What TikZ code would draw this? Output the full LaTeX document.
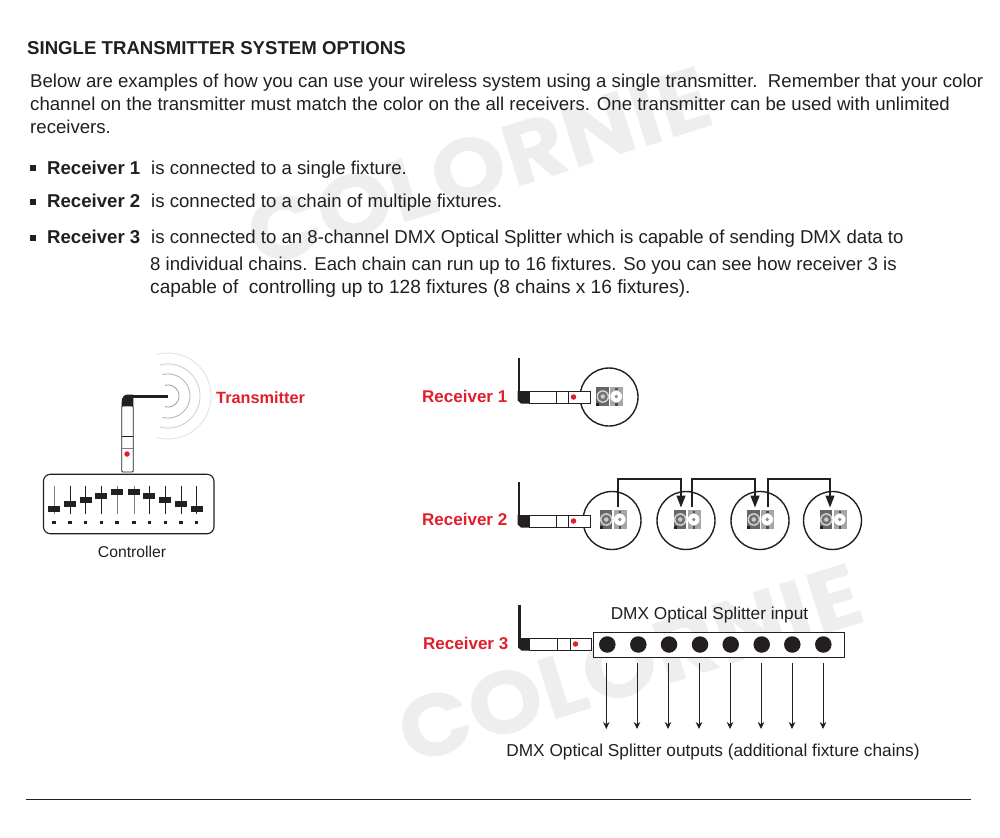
\documentclass[tikz,border=0pt]{standalone}
\usepackage{fontspec}
\setmainfont{Liberation Sans}
\newfontfamily\wmfont{Poppins}
\usetikzlibrary{arrows.meta}
\definecolor{ink}{HTML}{231F20}
\definecolor{redl}{HTML}{E01F2D}
\definecolor{wm}{HTML}{EEEEEE}
\tikzset{
  x=1pt,y=-1pt,
  txt/.style={anchor=base west,inner sep=0,font=\fontsize{18.62}{20}\selectfont,text=ink},
  boldt/.style={txt,font=\fontsize{18.62}{20}\selectfont\bfseries},
  redlab/.style={anchor=base west,inner sep=0,font=\fontsize{17}{18}\selectfont\bfseries,text=redl},
  small/.style={anchor=center,inner sep=0,font=\fontsize{17.25}{18}\selectfont,text=ink},
  wmark/.style={inner sep=0,font=\wmfont\fontsize{88}{100}\selectfont\bfseries,text=wm,rotate=17.5,xscale=1.08},
  fixture/.style={circle,draw=ink,line width=1.4pt,minimum size=58pt,inner sep=0,fill=white},
  body/.style={draw=ink,line width=.8pt,fill=white},
  knob/.style={fill=ink,draw=none,minimum width=12pt,minimum height=6pt,inner sep=0},
  sq/.style={fill=ink,draw=none,minimum size=3.5pt,inner sep=0},
  fad/.style={line width=.9pt,draw=ink},
  wire/.style={draw=ink,line width=1.2pt,-{Triangle[length=12pt,width=9pt]}},
  outarrow/.style={draw=ink,line width=.8pt,-{Stealth[length=7pt,width=6.5pt]}},
  sdot/.style={circle,fill=ink,draw=none,minimum size=16.5pt,inner sep=0},
  led/.style={circle,fill=redl,draw=none,minimum size=5.5pt,inner sep=0},
}
\newcommand{\rcv}[6]{%
  \draw[ink,line width=2.8pt] (#1,#2) -- (#1,#3+6);
  \fill[ink] (#1-1.4,#3) -- (#1+10,#3) -- (#1+10,#3+12.5) -- (#1+2,#3+12.5) -- (#1-1.4,#3+9.5) -- cycle;
  \draw[body] (#1+10,#3+.5) rectangle (#6,#3+12);
  \draw[ink,line width=.8pt] (#4,#3+.5) -- (#4,#3+12) (#5,#3+.5) -- (#5,#3+12);
  \node[led] at (#5+5.5,#3+6) {};
}
\newcommand{\xlr}[2]{%
  \fill[black!60] (#1-13.5,#2-9.5) rectangle (#1,#2+9.5);
  \fill[black!35] (#1,#2-9.5) rectangle (#1+13.5,#2+9.5);
  \fill[white] (#1-.6,#2-9.5) rectangle (#1+.6,#2+9.5);
  \fill[black!15] (#1-6.7,#2) circle (6.3);
  \fill[black!55] (#1-6.7,#2) circle (5);
  \fill[black!20] (#1-6.7,#2) circle (2.2);
  \fill[white] (#1+6.7,#2) circle (5.8);
  \fill[black!45] (#1+6.7,#2) circle (1.8);
  \fill[ink] (#1-13.5,#2+6.5) rectangle (#1-10.5,#2+9.5);
  \fill[black!70] (#1+5.5,#2-9) rectangle (#1+8,#2-6.5);
  \fill[black!70] (#1+5.5,#2+6.5) rectangle (#1+8,#2+9);
}
\begin{document}
\begin{tikzpicture}
\useasboundingbox (0,0) rectangle (1000,837);
\fill[white] (0,0) rectangle (1000,837);
\node[wmark] (wm1) at (479,167) {COLORNIE};
\node[wmark] (wm2) at (630,664) {COLORNIE};
\node[boldt] (title) at (27,55) {SINGLE TRANSMITTER SYSTEM OPTIONS};
\node[txt] (l1) at (30,88) {Below are examples of how you can use your wireless system using a single transmitter.\ \ Remember that your color};
\node[txt] (l2) at (30,111) {channel on the transmitter must match the color on the all receivers. One transmitter can be used with unlimited};
\node[txt] (l3) at (30,134) {receivers.};
\node[sq,minimum size=6pt] (b1) at (33,168.5) {};
\node[sq,minimum size=6pt] (b2) at (33,201.5) {};
\node[sq,minimum size=6pt] (b3) at (33,237.5) {};
\node[boldt] (r1) at (47,174.5) {Receiver 1};
\node[txt] (t1) at (151,174.5) {is connected to a single fixture.};
\node[boldt] (r2) at (47,207.5) {Receiver 2};
\node[txt] (t2) at (151,207.5) {is connected to a chain of multiple fixtures.};
\node[boldt] (r3) at (47,243.5) {Receiver 3};
\node[txt] (t3) at (151,243.5) {is connected to an 8-channel DMX Optical Splitter which is capable of sending DMX data to};
\node[txt] (t4) at (150,270.5) {8 individual chains. Each chain can run up to 16 fixtures. So you can see how receiver 3 is};
\node[txt,font=\fontsize{19.1}{20}\selectfont] (t5) at (150,293.5) {capable of\ \ controlling up to 128 fixtures (8 chains x 16 fixtures).};
% waves
\foreach \r/\c in {11/35,22/28,32/18,43/11}{
  \draw[black!\c,line width=.9pt] plot[domain=-105:105,samples=40,smooth] ({168+\r*cos(\x)},{396+\r*sin(\x)});
}
% transmitter
\fill[ink] (121.7,406) -- (121.7,402) .. controls (122,397) and (124,394.5) .. (128,394.5) -- (133.3,394.5) -- (133.3,406) -- cycle;
\draw[ink,line width=2.8pt] (130,396.2) -- (168,396.2);
\draw[body,rounded corners=1pt] (121.7,406) rectangle (133.3,472);
\draw[ink,line width=.6pt] (121.7,436) -- (133.3,436);
\draw[black!50,line width=.8pt] (121.7,448.5) -- (133.3,448.5);
\node[led] (txled) at (127,454) {};
\node[redlab,font=\fontsize{16.3}{18}\selectfont\bfseries] (txlab) at (216,403.5) {Transmitter};
% controller
\node[draw=ink,line width=1.1pt,rounded corners=7pt,minimum width=170.5pt,minimum height=59.5pt,inner sep=0,fill=white] (ctrl) at (128.7,504) {};
\foreach \i/\x/\y/\c in {a/54/508.7/black!50,b/70/504.3/ink,c/85.7/500/ink,d/101.3/495.7/ink,e/117/491.7/black!50,f/134/491.7/black!50,g/149.3/495.7/ink,h/165.3/500/ink,i/181/504.3/ink,j/196.7/508.7/ink}{
  \draw[fad,draw=\c] (\x,486) -- (\x,513.5);
  \node[knob] (k\i) at (\x,\y) {};
  \node[sq] (s\i) at (\x,522.7) {};
}
\node[small,font=\fontsize{15.7}{18}\selectfont] (ctlab) at (132,552) {Controller};
% receiver 1
\node[redlab] (rl1) at (422,402) {Receiver 1};
\node[fixture] (f0) at (609,397) {};
\rcv{519}{358}{391}{556.5}{568}{590}
\xlr{609.5}{396.5}
% receiver 2
\node[redlab] (rl2) at (422,525) {Receiver 2};
\node[fixture] (f1) at (612,520.5) {};
\node[fixture] (f2) at (686,520.5) {};
\node[fixture] (f3) at (760,520.5) {};
\node[fixture] (f4) at (832.5,520.5) {};
\rcv{519}{482}{515}{556.5}{568}{590}
\xlr{613}{519.5}
\xlr{687}{519.5}
\xlr{760.5}{519.5}
\xlr{833}{519.5}
\coordinate (w1s) at (618,507); \coordinate (w1e) at (681,507.5);
\coordinate (w2s) at (692,507); \coordinate (w2e) at (755,507.5);
\coordinate (w3s) at (768,507); \coordinate (w3e) at (830,507.5);
\draw[wire] (w1s) -- (w1s |- 0,479) -- (w1e |- 0,479) -- (w1e);
\draw[wire] (w2s) -- (w2s |- 0,479) -- (w2e |- 0,479) -- (w2e);
\draw[wire] (w3s) -- (w3s |- 0,479) -- (w3e |- 0,479) -- (w3e);
% receiver 3
\node[redlab] (rl3) at (423,649) {Receiver 3};
\rcv{519.5}{605}{638}{557.5}{570}{591}
\node[draw=ink,line width=.9pt,minimum width=251pt,minimum height=25pt,inner sep=0,fill=white] (split) at (718.5,644.5) {};
\node[small] (inlab) at (709.5,615) {DMX Optical Splitter input};
\foreach \n/\x/\ax in {1/607.3/606.3,2/638.3/637,3/669/668,4/700/699,5/730.7/730,6/761.7/761,7/792.3/792,8/823.3/823}{
  \node[sdot] (d\n) at (\x,644.5) {};
  \coordinate (as\n) at (\ax,663);
  \coordinate (ae\n) at (\ax,729);
  \draw[outarrow] (as\n) -- (ae\n);
}
\node[small] (outlab) at (713,752) {DMX Optical Splitter outputs (additional fixture chains)};
\coordinate (ra) at (26,799); \coordinate (rb) at (971,799);
\draw[ink,line width=.8pt] (ra) -- (rb);
\end{tikzpicture}
\end{document}
